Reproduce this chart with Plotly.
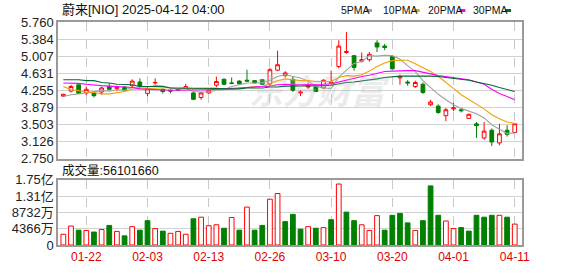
import plotly.graph_objects as go

# ---------------- data ----------------
dates = ["01-16", "01-17", "01-21", "01-22", "01-23", "01-24", "01-27", "01-28", "01-29", "01-30",
         "01-31", "02-03", "02-04", "02-05", "02-06", "02-07", "02-10", "02-11", "02-12", "02-13",
         "02-14", "02-18", "02-19", "02-20", "02-21", "02-24", "02-25", "02-26", "02-27", "02-28",
         "03-03", "03-04", "03-05", "03-06", "03-07", "03-10", "03-11", "03-12", "03-13", "03-14",
         "03-17", "03-18", "03-19", "03-20", "03-21", "03-24", "03-25", "03-26", "03-27", "03-28",
         "03-31", "04-01", "04-02", "04-03", "04-04", "04-07", "04-08", "04-09", "04-10", "04-11"]

open_ = [4.13, 4.24, 4.38, 4.20, 4.20, 4.22, 4.34, 4.30, 4.33, 4.36,
         4.44, 4.19, 4.42, 4.28, 4.26, 4.28, 4.30, 4.20, 4.10, 4.20,
         4.37, 4.50, 4.42, 4.46, 4.48, 4.47, 4.49, 4.40, 4.70, 4.58,
         4.50, 4.20, 4.33, 4.33, 4.31, 4.41, 4.78, 5.09, 5.02, 4.90,
         4.93, 5.30, 5.23, 5.00, 4.53, 4.44, 4.34, 4.39, 3.94, 3.91,
         3.70, 3.85, 3.83, 3.64, 3.52, 3.21, 3.38, 3.10, 3.38, 3.33]
high = [4.18, 4.38, 4.38, 4.34, 4.21, 4.34, 4.41, 4.36, 4.35, 4.50,
        4.52, 4.34, 4.52, 4.29, 4.27, 4.29, 4.40, 4.22, 4.22, 4.29,
        4.56, 4.52, 4.54, 4.48, 4.71, 4.48, 4.50, 4.75, 5.13, 4.68,
        4.57, 4.26, 4.43, 4.34, 4.50, 4.69, 5.36, 5.54, 5.02, 5.09,
        5.10, 5.36, 5.28, 5.03, 4.60, 4.48, 4.47, 4.43, 4.05, 3.95,
        3.87, 3.98, 3.85, 3.74, 3.56, 3.56, 3.42, 3.52, 3.49, 3.52]
low = [4.11, 4.21, 4.18, 4.15, 4.10, 4.16, 4.26, 4.24, 4.25, 4.30,
       4.30, 4.13, 4.38, 4.19, 4.19, 4.24, 4.29, 4.04, 4.05, 4.18,
       4.33, 4.37, 4.39, 4.39, 4.45, 4.41, 4.38, 4.36, 4.68, 4.54,
       4.22, 4.13, 4.29, 4.22, 4.29, 4.38, 4.74, 5.06, 4.69, 4.87,
       4.89, 5.10, 5.14, 4.71, 4.38, 4.36, 4.31, 4.18, 3.91, 3.74,
       3.58, 3.80, 3.77, 3.63, 3.21, 3.17, 3.03, 3.05, 3.24, 3.32]
close = [4.17, 4.34, 4.19, 4.28, 4.14, 4.31, 4.28, 4.32, 4.26, 4.46,
         4.34, 4.29, 4.43, 4.23, 4.24, 4.26, 4.34, 4.06, 4.20, 4.26,
         4.45, 4.39, 4.41, 4.40, 4.46, 4.42, 4.39, 4.71, 4.82, 4.64,
         4.26, 4.22, 4.35, 4.23, 4.48, 4.44, 5.23, 5.11, 4.76, 4.93,
         5.05, 5.21, 5.20, 4.73, 4.56, 4.42, 4.43, 4.21, 4.00, 3.77,
         3.83, 3.87, 3.81, 3.73, 3.48, 3.36, 3.12, 3.30, 3.29, 3.52]

ma5 = [4.12, 4.16, 4.18, 4.20, 4.22, 4.25, 4.24, 4.27, 4.26, 4.32,
       4.33, 4.33, 4.36, 4.35, 4.31, 4.29, 4.30, 4.23, 4.22, 4.22,
       4.26, 4.27, 4.34, 4.38, 4.42, 4.42, 4.42, 4.48, 4.56, 4.60,
       4.56, 4.53, 4.46, 4.34, 4.31, 4.30, 4.55, 4.70, 4.85, 4.89,
       5.02, 5.01, 5.03, 5.02, 4.94, 4.80, 4.67, 4.47, 4.32, 4.17,
       4.05, 3.94, 3.86, 3.80, 3.74, 3.65, 3.50, 3.40, 3.31, 3.32]
ma10 = [4.34, 4.27, 4.25, 4.22, 4.21, 4.18, 4.18, 4.20, 4.23, 4.28,
        4.29, 4.29, 4.31, 4.31, 4.32, 4.31, 4.32, 4.29, 4.29, 4.27,
        4.28, 4.29, 4.28, 4.30, 4.32, 4.34, 4.34, 4.41, 4.47, 4.51,
        4.49, 4.47, 4.47, 4.45, 4.45, 4.45, 4.54, 4.58, 4.57, 4.60,
        4.68, 4.78, 4.86, 4.91, 4.92, 4.92, 4.84, 4.75, 4.67, 4.56,
        4.44, 4.30, 4.16, 4.06, 3.96, 3.85, 3.72, 3.63, 3.56, 3.53]
ma20 = [4.42, 4.42, 4.41, 4.39, 4.37, 4.36, 4.35, 4.34, 4.33, 4.32,
        4.29, 4.28, 4.27, 4.27, 4.26, 4.26, 4.26, 4.26, 4.27, 4.27,
        4.28, 4.29, 4.30, 4.30, 4.32, 4.33, 4.33, 4.35, 4.38, 4.39,
        4.38, 4.38, 4.38, 4.38, 4.39, 4.40, 4.44, 4.49, 4.52, 4.56,
        4.59, 4.63, 4.67, 4.68, 4.69, 4.69, 4.69, 4.66, 4.62, 4.58,
        4.56, 4.54, 4.51, 4.49, 4.44, 4.39, 4.28, 4.19, 4.12, 4.05]
ma30 = [4.49, 4.49, 4.49, 4.47, 4.47, 4.43, 4.42, 4.39, 4.39, 4.38,
        4.34, 4.34, 4.34, 4.34, 4.31, 4.31, 4.31, 4.31, 4.31, 4.31,
        4.30, 4.29, 4.29, 4.29, 4.31, 4.31, 4.31, 4.33, 4.33, 4.35,
        4.35, 4.35, 4.35, 4.35, 4.36, 4.37, 4.40, 4.43, 4.44, 4.46,
        4.48, 4.51, 4.54, 4.56, 4.57, 4.57, 4.57, 4.58, 4.57, 4.56,
        4.54, 4.52, 4.50, 4.48, 4.44, 4.41, 4.37, 4.32, 4.27, 4.23]

# volume in units of 万 (10,000 shares)
volume_wan = [2882, 5087, 3985, 3900, 3476, 4154, 5256, 3645, 2458, 4917,
              3985, 6528, 4408, 3730, 3137, 3645, 2882, 7036, 7460, 5171,
              5426, 4493, 7375, 3985, 10173, 3985, 5256, 12292, 13818, 6273,
              8223, 4239, 4917, 4493, 4663, 6782, 16362, 8817, 6528, 5426,
              3900, 7884, 3985, 7969, 8477, 5934, 3900, 6528, 15853, 7969,
              6443, 4408, 4663, 3730, 7969, 7460, 7969, 7969, 7460, 5610.166]
# 1 = up day (red bar), 0 = down day (green bar), as coloured in the picture
volume_up = [1, 1, 0, 1, 0, 1, 0, 1, 0, 1,
             0, 0, 1, 0, 1, 1, 1, 0, 1, 1,
             1, 0, 1, 0, 1, 0, 0, 1, 1, 0,
             0, 0, 1, 0, 1, 0, 1, 0, 0, 1,
             1, 1, 0, 0, 0, 0, 1, 0, 0, 0,
             1, 1, 0, 0, 0, 0, 0, 1, 0, 1]

date_ticks = ["01-22", "02-03", "02-13", "02-26", "03-10", "03-20", "04-01", "04-11"]
price_ticks = [2.750, 3.126, 3.503, 3.879, 4.255, 4.631, 5.007, 5.384, 5.760]
price_tick_text = ["2.750", "3.126", "3.503", "3.879", "4.255", "4.631", "5.007", "5.384", "5.760"]
vol_ticks_wan = [0, 4366, 8732, 13098, 17464]
vol_tick_text = ["0", "4366万", "8732万", "1.31亿", "1.75亿"]

title_text = "蔚来[NIO] 2025-04-12 04:00"
vol_title = "成交量:56101660"
ma_names = ["5PMA", "10PMA", "20PMA", "30PMA"]

# ---------------- styling ----------------
W, H = 578, 276
L, R, T, B = 55, 56, 22, 21
PW, PH = W - L - R, H - T - B
RED = "#ff0000"
GREEN = "#008000"
MA_COLORS = ["#a0a0a0", "#f0a000", "#ff00ff", "#006a33"]
FONT = "Liberation Sans, Arial, Noto Sans CJK SC, sans-serif"
price_bottom_px, vol_top_px = 165, 187


def px_x(px):
    return (px - L) / PW


def px_y(py):
    return (H - B - py) / PH


fig = go.Figure()

fig.add_trace(go.Candlestick(
    x=dates, open=open_, high=high, low=low, close=close,
    increasing=dict(line=dict(color=RED, width=1), fillcolor="#ffffff"),
    decreasing=dict(line=dict(color=GREEN, width=1), fillcolor=GREEN),
    whiskerwidth=0, showlegend=False, hoverinfo="skip",
    xaxis="x", yaxis="y"))

for name, vals, col in zip(ma_names, [ma5, ma10, ma20, ma30], MA_COLORS):
    fig.add_trace(go.Scatter(x=dates, y=vals, mode="lines", name=name,
                             line=dict(color=col, width=1.1),
                             showlegend=False, hoverinfo="skip",
                             xaxis="x", yaxis="y"))

vol_values = [v * 1e4 for v in volume_wan]
fig.add_trace(go.Bar(
    x=dates, y=vol_values, width=0.62,
    marker=dict(color=["#ffffff" if u else GREEN for u in volume_up],
                line=dict(color=[RED if u else GREEN for u in volume_up], width=1)),
    showlegend=False, hoverinfo="skip", xaxis="x2", yaxis="y2"))

axis_common = dict(showline=True, mirror=True, linecolor="#9a9a9a", linewidth=1.5,
                   zeroline=False, ticks="", fixedrange=True)
x_common = dict(type="category", categoryorder="array", categoryarray=dates,
                range=[-0.7, 59.95], tickvals=date_ticks,
                showgrid=True, gridcolor="#c8c8c8", griddash="dash", gridwidth=1,
                rangeslider=dict(visible=False), **axis_common)

fig.update_layout(
    width=W, height=H,
    margin=dict(l=L, r=R, t=T, b=B),
    paper_bgcolor="#ffffff", plot_bgcolor="#ffffff",
    font=dict(family=FONT, size=12, color="#222"),
    bargap=0.2,
    xaxis=dict(anchor="y", domain=[0, 1], showticklabels=False, **x_common),
    xaxis2=dict(anchor="y2", domain=[0, 1], matches="x", showticklabels=True,
                tickfont=dict(color="#e00000", size=12, family=FONT), **x_common),
    yaxis=dict(anchor="x", domain=[px_y(price_bottom_px), 1], range=[2.750, 5.760],
               tickvals=price_ticks, ticktext=price_tick_text,
               showgrid=True, gridcolor="#d2d2d2", gridwidth=1,
               tickfont=dict(size=13, color="#222", family=FONT), **axis_common),
    yaxis2=dict(anchor="x2", domain=[0, px_y(vol_top_px)], range=[0, 17464e4],
                tickvals=[v * 1e4 for v in vol_ticks_wan], ticktext=vol_tick_text,
                showgrid=True, gridcolor="#d2d2d2", gridwidth=1,
                tickfont=dict(size=13, color="#222", family=FONT), **axis_common),
)

annotations = []
annotations.append(dict(text=title_text, xref="paper", yref="paper", x=px_x(57), y=px_y(9),
                        xanchor="left", yanchor="middle", showarrow=False,
                        font=dict(size=13, color="#111", family=FONT)))
annotations.append(dict(text=vol_title, xref="paper", yref="paper", x=px_x(57), y=px_y(177),
                        xanchor="left", yanchor="middle", showarrow=False,
                        font=dict(size=12.5, color="#111", family=FONT)))
annotations.append(dict(text="<b><i>东方财富</i></b>", xref="paper", yref="paper",
                        x=px_x(318), y=px_y(93), xanchor="center", yanchor="middle",
                        showarrow=False,
                        font=dict(size=34, color="rgba(185,185,190,0.30)", family="Noto Sans CJK SC")))

legend_text_x = [338, 380, 425, 471]
legend_dash_x = [365, 413, 459, 505]
shapes = []
for name, tx, dx, col in zip(ma_names, legend_text_x, legend_dash_x, MA_COLORS):
    annotations.append(dict(text=name, xref="paper", yref="paper", x=px_x(tx), y=px_y(9),
                            xanchor="left", yanchor="middle", showarrow=False,
                            font=dict(size=10.5, color="#111", family=FONT)))
    shapes.append(dict(type="line", xref="paper", yref="paper",
                       x0=px_x(dx), x1=px_x(dx + 6), y0=px_y(10), y1=px_y(10),
                       line=dict(color=col, width=3)))

fig.update_layout(annotations=annotations, shapes=shapes)

fig.write_html("out.html", config={"displayModeBar": False})
